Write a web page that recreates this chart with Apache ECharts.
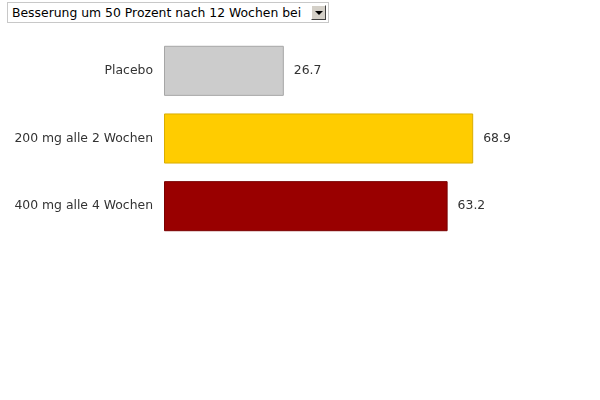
<!DOCTYPE html>
<html>
<head>
<meta charset="utf-8">
<script src="https://cdn.jsdelivr.net/npm/echarts@6/dist/echarts.min.js"></script>
<style>
  html, body { margin: 0; padding: 0; background: #fff; }
  #wrap { position: relative; width: 600px; height: 400px; }
  #pick {
    position: absolute; left: 7px; top: 2px; width: 322px; height: 21px;
    box-sizing: border-box; border: 1px solid #c8c8c8; background: #fff;
    font-family: "DejaVu Sans", sans-serif; font-size: 12.4px; color: #000;
  }
  #pick select {
    -webkit-appearance: none; appearance: none; border: 0; outline: 0;
    background: transparent; font: inherit; color: inherit;
    width: 100%; height: 19px; padding: 0 0 0 4px; margin: 0;
  }
  #pick .btn {
    position: absolute; right: 2px; top: 2px; width: 15px; height: 15px;
    box-sizing: border-box; background: #d4d0c8;
    border: 1px solid; border-color: #fff #404040 #404040 #fff;
    pointer-events: none;
  }
  #pick .btn:after {
    content: ""; position: absolute; left: 3px; top: 5px;
    border-left: 4px solid transparent; border-right: 4px solid transparent;
    border-top: 4px solid #000;
  }
  #main { position: absolute; left: 0; top: 0; width: 600px; height: 400px; }
</style>
</head>
<body>
<div id="wrap">
  <div id="main"></div>
  <div id="pick">
    <select><option>Besserung um 50 Prozent nach 12 Wochen bei</option></select>
    <span class="btn"></span>
  </div>
</div>
<script>
var categories = ['Placebo', '200 mg alle 2 Wochen', '400 mg alle 4 Wochen'];
var values = [26.7, 68.9, 63.2];
var fills = ['#cccccc', '#ffcc00', '#990000'];
var borders = ['#a6a6a6', '#d9ad00', '#7a0000'];

var chart = echarts.init(document.getElementById('main'));

var option = {
    animation: false,
    grid: { left: 164, right: 77, top: 37, height: 203, containLabel: false },
    xAxis: {
        type: 'value', min: 0, max: 80, show: false
    },
    yAxis: {
        type: 'category', inverse: true, data: categories,
        axisLine: { show: false }, axisTick: { show: false }, splitLine: { show: false },
        axisLabel: { margin: 11, color: '#333', fontFamily: 'DejaVu Sans', fontSize: 12.4 }
    },
    series: [{
        type: 'bar',
        barCategoryGap: '26%',
        data: values.map(function (v, i) {
            return { value: v, itemStyle: { color: fills[i], borderColor: borders[i], borderWidth: 1 } };
        }),
        label: {
            show: true, position: 'right', distance: 10,
            color: '#333', fontFamily: 'DejaVu Sans', fontSize: 12.4
        }
    }]
};

chart.setOption(option);
</script>
</body>
</html>
